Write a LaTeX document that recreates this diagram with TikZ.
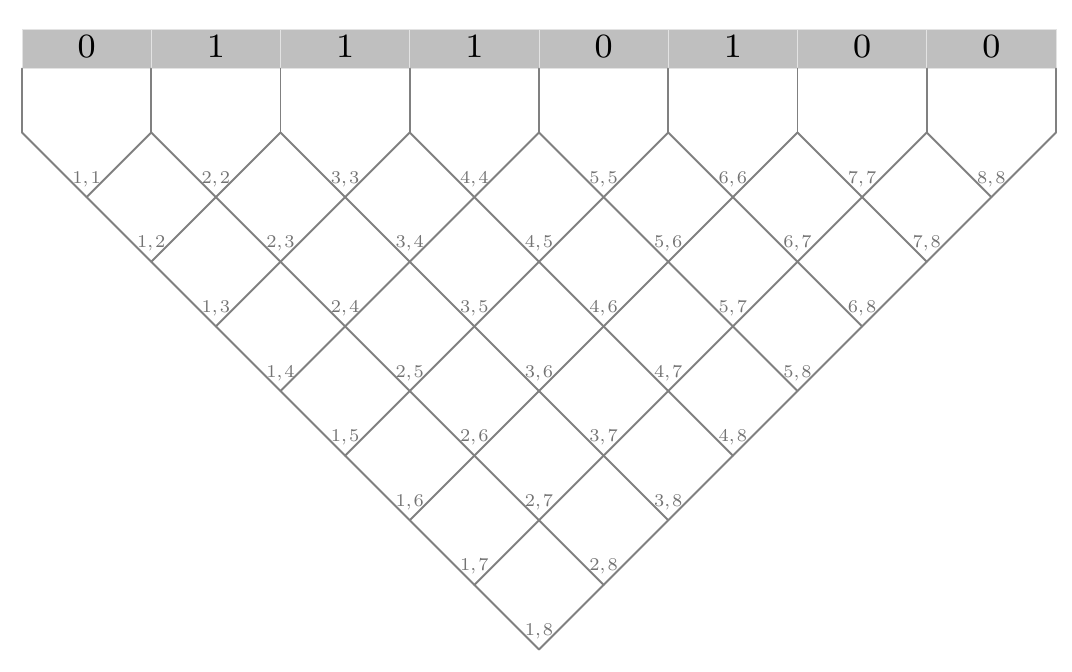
\documentclass[tikz,border=0pt]{standalone}
\usepackage{fontspec}
\newfontfamily\labfont{lmroman7-regular}[Extension=.otf]
\newfontfamily\bitfont{lmroman8-regular}[Extension=.otf]
\begin{document}
\begin{tikzpicture}[x=1pt,y=-1pt,
  cell/.style={draw=gray!22,line width=0.6pt,fill=gray!50,minimum width=129.25pt,minimum height=39pt,inner sep=0pt,text depth=5pt,font=\bitfont\fontsize{34}{40}\selectfont},
  ln/.style={draw=gray,line width=1.8pt,line cap=round,line join=round},
  lab/.style={anchor=base,inner sep=0pt,yshift=14pt,text=gray!90!black,font=\labfont\fontsize{18}{20}\selectfont}]
\useasboundingbox (0,0) rectangle (1072,672);
\def\h{64.625}
% bit cells
\foreach \b [count=\c from 0] in {0,1,1,1,0,1,0,0}{
  \node[cell] (c\c) at ({22+2*\h*\c+\h},49) {\b};
}
% column coordinates
\foreach \k in {0,...,8}{
  \coordinate (b\k) at ({22+2*\h*\k},68.5);
  \coordinate (t\k) at ({22+2*\h*\k},132.5);
}
% chart nodes
\foreach \i in {1,...,8}{
  \foreach \j in {\i,...,8}{
    \coordinate (n\i-\j) at ({22+\h*(\i+\j-1)},{132.5+\h*(\j-\i+1)});
  }
}
% connectors
\foreach \k in {0,...,8}{ \draw[ln] (b\k) -- (t\k); }
\foreach \k [evaluate=\k as \km using int(\k-1)] in {1,...,8}{
  \draw[ln] (t\km) -- (n\k-8);
  \draw[ln] (t\k) -- (n1-\k);
}
% labels
\foreach \i in {1,...,8}{
  \foreach \j in {\i,...,8}{
    \node[lab] (l\i-\j) at (n\i-\j) {\i,\kern2pt\j};
  }
}
\end{tikzpicture}
\end{document}
